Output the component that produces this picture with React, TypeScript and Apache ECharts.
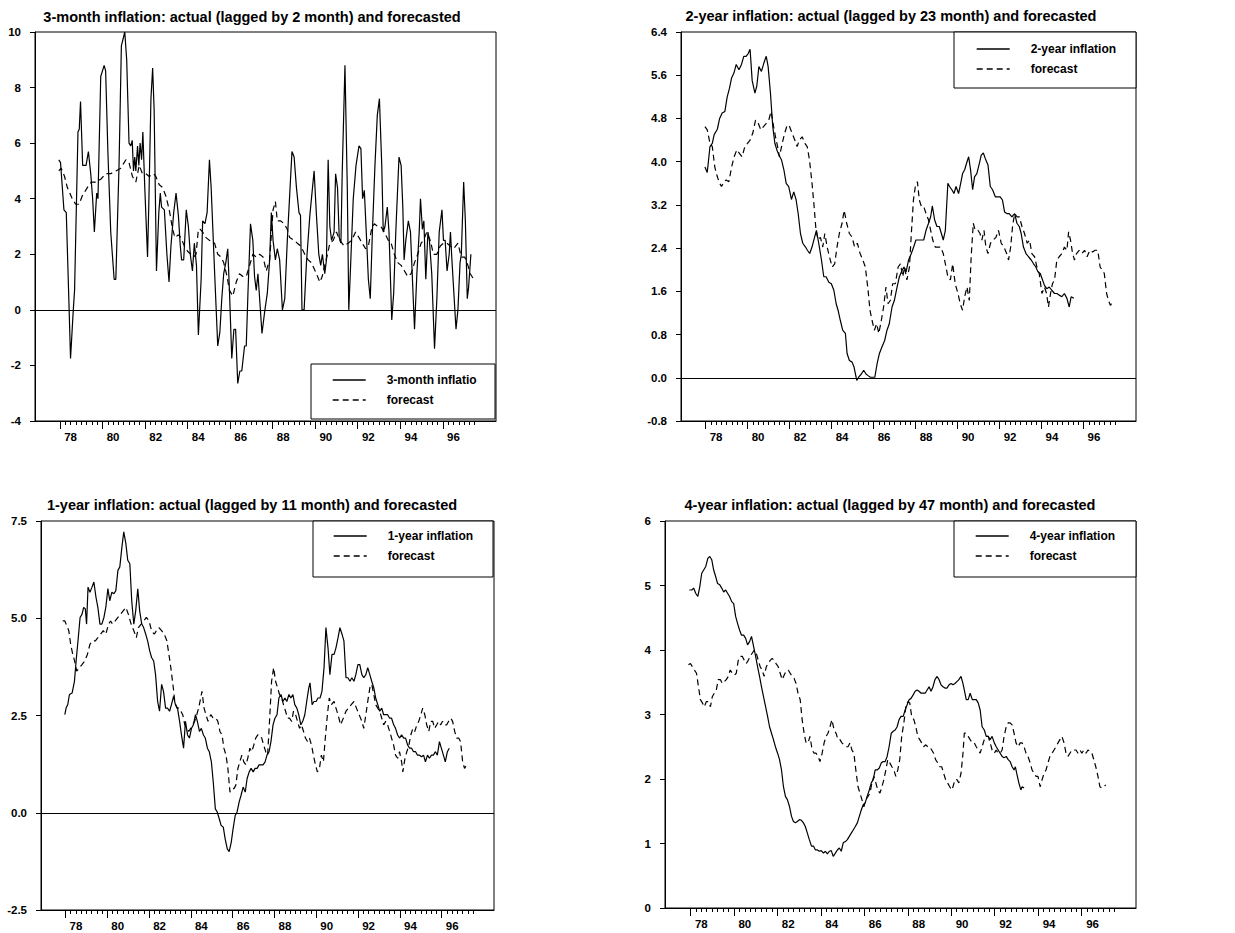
import { useEffect, useRef } from "react";
import * as echarts from "echarts";

// ---------- DATA (decimal year, value) ----------
const m3Actual: [number, number][] = [[1977.95,5.4],[1978.03,5.3],[1978.19,3.6],[1978.30,3.5],[1978.42,0.4],[1978.50,-1.75],[1978.63,0],[1978.69,0.7],[1978.85,6.4],[1978.91,6.5],[1978.97,7.5],[1979.07,5.2],[1979.23,5.2],[1979.34,5.7],[1979.45,4.9],[1979.54,4.0],[1979.62,2.8],[1979.73,4.2],[1979.79,4.0],[1979.92,8.4],[1980.08,8.8],[1980.15,8.6],[1980.26,5.6],[1980.39,2.8],[1980.55,1.1],[1980.63,1.1],[1980.78,5.2],[1980.89,9.5],[1981.05,10.0],[1981.14,9.0],[1981.25,6.0],[1981.33,5.9],[1981.40,6.1],[1981.46,5.0],[1981.52,5.5],[1981.57,5.0],[1981.65,5.9],[1981.71,5.2],[1981.77,6.0],[1981.84,5.4],[1981.90,6.4],[1981.99,4.4],[1982.12,1.9],[1982.18,3.8],[1982.28,7.6],[1982.36,8.7],[1982.43,7.2],[1982.54,1.4],[1982.65,3.5],[1982.72,4.2],[1982.78,3.7],[1982.91,3.6],[1983.03,2.0],[1983.13,1.0],[1983.22,2.3],[1983.35,3.5],[1983.46,4.2],[1983.57,3.4],[1983.66,2.3],[1983.72,1.8],[1983.82,1.8],[1983.94,3.6],[1984.04,3.0],[1984.13,2.0],[1984.23,1.4],[1984.32,2.4],[1984.42,1.6],[1984.51,-0.9],[1984.64,1.1],[1984.71,3.2],[1984.82,3.1],[1984.92,3.5],[1985.03,5.4],[1985.11,4.4],[1985.27,1.4],[1985.42,-1.3],[1985.52,-0.8],[1985.61,0.4],[1985.70,1.3],[1985.80,1.7],[1985.89,2.2],[1985.97,0.7],[1986.08,-1.75],[1986.18,-0.7],[1986.26,-0.7],[1986.36,-2.65],[1986.46,-2.2],[1986.55,-2.2],[1986.68,-1.3],[1986.76,-1.3],[1986.84,0.6],[1986.96,3.1],[1987.07,2.5],[1987.15,1.2],[1987.23,0.7],[1987.31,1.3],[1987.50,-0.85],[1987.62,-0.1],[1987.75,0.6],[1987.86,1.8],[1987.94,3.5],[1988.02,2.5],[1988.13,1.8],[1988.22,2.2],[1988.33,1.8],[1988.46,0],[1988.57,0.4],[1988.69,2.5],[1988.82,4.4],[1988.91,5.7],[1989.01,5.5],[1989.12,4.4],[1989.24,3.5],[1989.31,3.4],[1989.38,0],[1989.48,0],[1989.59,1.7],[1989.75,3.4],[1989.95,5.0],[1990.06,3.4],[1990.17,2.0],[1990.26,1.6],[1990.34,2.0],[1990.45,1.3],[1990.53,1.8],[1990.61,5.4],[1990.69,3.0],[1990.77,2.5],[1990.89,2.8],[1990.96,4.9],[1991.05,4.4],[1991.13,2.6],[1991.21,2.4],[1991.27,4.9],[1991.40,8.8],[1991.51,4.4],[1991.58,0],[1991.65,1.3],[1991.79,4.0],[1991.92,5.2],[1992.06,5.9],[1992.15,5.8],[1992.23,4.0],[1992.31,4.3],[1992.42,2.5],[1992.50,1.1],[1992.59,0.4],[1992.69,2.8],[1992.81,5.2],[1992.92,7.0],[1993.02,7.6],[1993.13,5.2],[1993.20,2.8],[1993.28,3.0],[1993.39,3.7],[1993.47,2.8],[1993.60,-0.36],[1993.69,0.6],[1993.79,2.8],[1993.94,5.5],[1994.04,5.2],[1994.12,3.7],[1994.18,1.8],[1994.26,2.5],[1994.38,3.2],[1994.48,2.8],[1994.67,-0.7],[1994.78,1.3],[1994.89,2.8],[1994.95,4.0],[1995.04,2.9],[1995.11,3.2],[1995.20,1.1],[1995.30,2.8],[1995.37,2.5],[1995.48,1.3],[1995.61,-1.4],[1995.72,0.4],[1995.83,2.8],[1995.96,3.6],[1996.03,2.5],[1996.11,2.5],[1996.20,1.4],[1996.30,2.0],[1996.36,2.8],[1996.42,1.9],[1996.52,0.6],[1996.62,-0.7],[1996.71,0],[1996.81,1.7],[1996.87,2.0],[1996.98,4.6],[1997.06,3.2],[1997.15,0.4],[1997.21,0.8],[1997.32,2.0]];

const m3Forecast: [number, number][] = [[1977.95,5.0],[1978.06,5.1],[1978.22,4.8],[1978.35,4.4],[1978.47,4.2],[1978.58,4.0],[1978.74,3.8],[1978.90,3.8],[1979.05,4.1],[1979.29,4.4],[1979.48,4.6],[1979.68,4.6],[1979.92,4.7],[1980.15,4.9],[1980.39,4.9],[1980.63,5.0],[1980.86,5.1],[1981.10,5.4],[1981.25,5.3],[1981.41,4.8],[1981.57,4.6],[1981.73,5.2],[1981.88,4.9],[1982.04,4.9],[1982.20,4.8],[1982.40,4.9],[1982.51,4.8],[1982.67,4.5],[1982.83,4.4],[1982.98,4.1],[1983.14,3.6],[1983.30,2.9],[1983.41,2.6],[1983.57,2.7],[1983.69,2.6],[1983.85,2.3],[1984.01,2.1],[1984.16,2.0],[1984.29,1.9],[1984.40,2.0],[1984.51,2.9],[1984.60,2.9],[1984.71,2.8],[1984.87,2.6],[1985.03,2.5],[1985.27,2.4],[1985.42,2.0],[1985.58,1.9],[1985.70,1.7],[1985.86,1.2],[1985.97,0.7],[1986.13,0.5],[1986.29,1.0],[1986.44,1.3],[1986.60,1.2],[1986.76,1.2],[1986.92,1.6],[1987.07,2.0],[1987.23,1.9],[1987.39,2.0],[1987.55,1.9],[1987.70,1.4],[1987.86,1.8],[1988.02,3.6],[1988.13,3.9],[1988.22,3.2],[1988.38,3.2],[1988.54,3.1],[1988.69,2.9],[1988.80,2.6],[1989.01,2.5],[1989.16,2.4],[1989.32,2.3],[1989.51,2.0],[1989.67,1.8],[1989.82,1.7],[1990.06,1.3],[1990.22,1.0],[1990.33,1.2],[1990.45,1.6],[1990.58,2.0],[1990.69,2.4],[1990.85,2.5],[1991.00,2.8],[1991.16,2.5],[1991.36,2.3],[1991.55,2.4],[1991.71,2.5],[1991.90,2.8],[1992.06,2.6],[1992.21,2.4],[1992.37,2.2],[1992.50,2.3],[1992.65,2.9],[1992.78,3.1],[1992.94,3.0],[1993.09,3.0],[1993.25,2.8],[1993.44,2.5],[1993.57,2.4],[1993.72,2.0],[1993.88,1.7],[1994.04,1.6],[1994.20,1.4],[1994.35,1.2],[1994.51,1.3],[1994.67,1.7],[1994.82,2.0],[1994.98,2.4],[1995.09,2.5],[1995.25,2.8],[1995.41,2.5],[1995.56,2.0],[1995.72,2.0],[1995.88,2.3],[1996.03,2.4],[1996.19,2.4],[1996.35,2.3],[1996.51,2.2],[1996.71,2.4],[1996.87,1.9],[1997.03,1.9],[1997.18,1.6],[1997.29,1.3],[1997.45,1.1]];

const y2Actual: [number, number][] = [[1977.97,3.9],[1978.08,3.8],[1978.21,4.28],[1978.32,4.34],[1978.41,4.5],[1978.56,4.6],[1978.67,4.8],[1978.79,4.9],[1978.92,4.93],[1979.03,5.2],[1979.14,5.36],[1979.24,5.55],[1979.35,5.64],[1979.46,5.8],[1979.59,5.7],[1979.71,5.8],[1979.82,5.95],[1979.93,5.95],[1980.03,6.0],[1980.12,6.08],[1980.22,5.5],[1980.35,5.27],[1980.44,5.4],[1980.54,5.76],[1980.66,5.67],[1980.78,5.83],[1980.89,5.95],[1980.98,5.76],[1981.09,5.27],[1981.20,4.65],[1981.30,4.34],[1981.41,4.2],[1981.52,4.1],[1981.62,4.03],[1981.73,3.85],[1981.84,3.6],[1981.96,3.54],[1982.09,3.3],[1982.20,3.44],[1982.31,3.3],[1982.41,3.04],[1982.52,2.67],[1982.63,2.49],[1982.76,2.42],[1982.85,2.36],[1982.96,2.3],[1983.07,2.42],[1983.19,2.6],[1983.28,2.73],[1983.39,2.49],[1983.52,2.18],[1983.63,1.87],[1983.74,1.87],[1983.87,1.77],[1983.99,1.74],[1984.11,1.62],[1984.22,1.37],[1984.31,1.25],[1984.42,1.06],[1984.53,0.88],[1984.66,0.82],[1984.74,0.45],[1984.85,0.32],[1984.98,0.29],[1985.07,0.2],[1985.20,-0.05],[1985.29,0.01],[1985.42,0.07],[1985.53,0.14],[1985.64,0.07],[1985.74,0.04],[1985.85,0.01],[1985.96,0.01],[1986.06,0.01],[1986.17,0.26],[1986.28,0.45],[1986.40,0.57],[1986.53,0.69],[1986.64,0.88],[1986.75,1.0],[1986.88,1.31],[1986.99,1.43],[1987.12,1.68],[1987.23,1.87],[1987.36,1.99],[1987.45,2.05],[1987.55,1.96],[1987.67,2.18],[1987.80,2.3],[1987.91,2.42],[1988.02,2.55],[1988.15,2.55],[1988.28,2.55],[1988.39,2.55],[1988.50,2.73],[1988.62,2.86],[1988.72,2.98],[1988.80,3.18],[1988.91,2.92],[1989.02,2.8],[1989.13,2.8],[1989.23,2.67],[1989.32,2.55],[1989.42,2.73],[1989.54,3.6],[1989.62,3.54],[1989.73,3.48],[1989.83,3.41],[1989.93,3.54],[1990.05,3.41],[1990.15,3.6],[1990.24,3.78],[1990.34,3.85],[1990.43,3.97],[1990.53,4.09],[1990.62,3.85],[1990.72,3.48],[1990.81,3.72],[1990.92,3.78],[1991.04,3.97],[1991.13,4.12],[1991.23,4.16],[1991.32,4.06],[1991.45,3.94],[1991.56,3.54],[1991.67,3.48],[1991.80,3.35],[1991.92,3.35],[1992.03,3.35],[1992.14,3.29],[1992.24,3.07],[1992.35,3.04],[1992.46,3.04],[1992.59,2.98],[1992.72,3.04],[1992.83,2.86],[1992.94,2.8],[1993.03,2.67],[1993.14,2.42],[1993.26,2.3],[1993.38,2.24],[1993.51,2.18],[1993.62,2.11],[1993.73,2.05],[1993.83,1.96],[1993.94,1.93],[1994.05,1.81],[1994.14,1.71],[1994.25,1.65],[1994.37,1.68],[1994.49,1.62],[1994.62,1.56],[1994.73,1.56],[1994.84,1.53],[1994.97,1.5],[1995.09,1.56],[1995.21,1.47],[1995.32,1.31],[1995.41,1.5],[1995.54,1.47]];

const y2Forecast: [number, number][] = [[1977.97,4.65],[1978.08,4.59],[1978.21,4.34],[1978.32,4.28],[1978.44,3.9],[1978.56,3.72],[1978.67,3.6],[1978.76,3.54],[1978.87,3.63],[1978.98,3.66],[1979.11,3.63],[1979.24,3.9],[1979.36,4.09],[1979.49,4.22],[1979.62,4.15],[1979.74,4.09],[1979.87,4.28],[1980.00,4.34],[1980.12,4.4],[1980.25,4.53],[1980.38,4.77],[1980.51,4.71],[1980.63,4.59],[1980.76,4.65],[1980.89,4.71],[1981.01,4.77],[1981.12,4.93],[1981.24,4.65],[1981.33,4.46],[1981.43,4.28],[1981.52,4.09],[1981.65,4.34],[1981.77,4.53],[1981.89,4.68],[1982.00,4.65],[1982.12,4.53],[1982.25,4.4],[1982.36,4.28],[1982.47,4.4],[1982.60,4.46],[1982.73,4.34],[1982.84,4.28],[1982.95,4.03],[1983.07,3.6],[1983.17,3.17],[1983.26,2.73],[1983.36,2.55],[1983.47,2.6],[1983.58,2.42],[1983.68,2.67],[1983.79,2.42],[1983.90,2.24],[1984.03,2.05],[1984.15,2.11],[1984.26,2.42],[1984.37,2.67],[1984.50,2.86],[1984.60,3.1],[1984.72,2.86],[1984.85,2.67],[1984.98,2.6],[1985.10,2.42],[1985.23,2.49],[1985.36,2.3],[1985.49,2.18],[1985.61,2.05],[1985.74,1.62],[1985.83,1.25],[1985.93,1.06],[1986.04,0.88],[1986.15,1.0],[1986.25,0.82],[1986.37,1.06],[1986.48,1.31],[1986.59,1.68],[1986.69,1.37],[1986.80,1.43],[1986.91,1.74],[1987.04,1.74],[1987.17,2.05],[1987.28,2.11],[1987.39,1.87],[1987.48,2.05],[1987.59,1.81],[1987.71,2.05],[1987.80,2.67],[1987.90,3.29],[1987.99,3.54],[1988.09,3.63],[1988.18,3.29],[1988.28,3.17],[1988.39,3.17],[1988.50,3.04],[1988.62,2.92],[1988.72,2.73],[1988.82,2.55],[1988.94,2.42],[1989.07,2.42],[1989.20,2.42],[1989.32,2.3],[1989.42,2.11],[1989.54,1.87],[1989.66,1.81],[1989.77,2.11],[1989.89,1.74],[1990.02,1.56],[1990.13,1.37],[1990.24,1.25],[1990.34,1.5],[1990.45,1.68],[1990.56,1.43],[1990.65,2.24],[1990.75,2.86],[1990.84,2.73],[1990.97,2.73],[1991.07,2.67],[1991.16,2.55],[1991.26,2.73],[1991.35,2.42],[1991.45,2.3],[1991.57,2.49],[1991.70,2.55],[1991.83,2.6],[1991.95,2.73],[1992.08,2.49],[1992.21,2.42],[1992.34,2.3],[1992.43,2.18],[1992.53,2.42],[1992.62,2.8],[1992.72,3.04],[1992.83,2.98],[1992.94,2.98],[1993.07,2.8],[1993.19,2.67],[1993.32,2.49],[1993.43,2.55],[1993.54,2.3],[1993.67,2.24],[1993.78,2.05],[1993.89,1.93],[1994.02,1.56],[1994.14,1.68],[1994.24,1.56],[1994.33,1.31],[1994.43,1.56],[1994.52,1.74],[1994.62,1.81],[1994.73,2.18],[1994.84,2.24],[1994.97,2.3],[1995.09,2.42],[1995.21,2.36],[1995.29,2.7],[1995.38,2.55],[1995.48,2.3],[1995.57,2.18],[1995.67,2.3],[1995.79,2.36],[1995.92,2.3],[1996.05,2.36],[1996.17,2.24],[1996.30,2.36],[1996.43,2.33],[1996.55,2.36],[1996.68,2.36],[1996.79,2.05],[1996.90,1.99],[1996.99,1.93],[1997.10,1.56],[1997.19,1.43],[1997.28,1.34],[1997.38,1.4]];

const y1Actual: [number, number][] = [[1977.97,2.52],[1978.03,2.69],[1978.11,2.78],[1978.19,3.04],[1978.32,3.08],[1978.43,3.38],[1978.51,3.9],[1978.60,4.42],[1978.70,5.02],[1978.79,5.1],[1978.87,5.28],[1978.95,5.24],[1979.01,4.85],[1979.08,5.8],[1979.17,5.67],[1979.27,5.8],[1979.36,5.93],[1979.46,5.54],[1979.55,5.28],[1979.65,4.85],[1979.74,4.85],[1979.84,5.02],[1979.93,5.28],[1980.03,5.76],[1980.12,5.45],[1980.22,5.67],[1980.32,5.63],[1980.41,5.71],[1980.51,6.23],[1980.60,6.32],[1980.70,6.83],[1980.79,7.22],[1980.89,6.92],[1980.98,6.49],[1981.08,6.4],[1981.17,5.45],[1981.27,4.85],[1981.36,5.19],[1981.46,5.76],[1981.55,5.19],[1981.65,4.85],[1981.74,4.76],[1981.84,4.59],[1981.93,4.42],[1982.03,4.16],[1982.12,3.99],[1982.22,3.9],[1982.31,3.55],[1982.41,2.86],[1982.50,2.61],[1982.60,3.3],[1982.69,3.12],[1982.79,2.69],[1982.88,2.69],[1982.98,2.61],[1983.07,2.78],[1983.17,2.99],[1983.26,2.78],[1983.36,2.69],[1983.46,2.35],[1983.55,2.0],[1983.65,1.66],[1983.74,2.35],[1983.84,2.0],[1983.93,1.92],[1984.03,2.17],[1984.12,2.26],[1984.22,2.52],[1984.31,2.35],[1984.41,2.09],[1984.50,2.17],[1984.60,2.0],[1984.69,1.92],[1984.79,1.66],[1984.88,1.57],[1984.98,1.31],[1985.07,0.79],[1985.17,0.1],[1985.26,0.02],[1985.36,-0.16],[1985.45,-0.33],[1985.55,-0.37],[1985.64,-0.67],[1985.74,-0.93],[1985.83,-1.0],[1985.93,-0.76],[1986.02,-0.41],[1986.12,-0.07],[1986.21,0.02],[1986.31,0.28],[1986.40,0.45],[1986.50,0.66],[1986.60,0.53],[1986.69,0.88],[1986.79,1.05],[1986.88,1.14],[1986.98,1.05],[1987.07,1.14],[1987.17,1.14],[1987.26,1.23],[1987.36,1.23],[1987.45,1.23],[1987.55,1.31],[1987.64,1.48],[1987.74,1.57],[1987.83,1.83],[1987.93,2.26],[1988.02,2.43],[1988.12,2.52],[1988.21,2.95],[1988.31,3.04],[1988.40,2.86],[1988.50,2.95],[1988.59,2.86],[1988.69,3.04],[1988.78,2.95],[1988.88,3.04],[1988.97,2.78],[1989.07,2.69],[1989.16,2.52],[1989.26,2.26],[1989.35,2.35],[1989.45,2.52],[1989.54,2.86],[1989.64,3.21],[1989.70,3.34],[1989.80,2.78],[1989.89,2.86],[1989.99,2.86],[1990.08,2.95],[1990.18,2.95],[1990.27,3.12],[1990.37,3.73],[1990.46,4.76],[1990.56,4.24],[1990.65,3.55],[1990.75,4.07],[1990.85,4.07],[1990.94,4.24],[1991.04,4.5],[1991.13,4.76],[1991.23,4.59],[1991.32,4.42],[1991.42,3.47],[1991.51,3.47],[1991.61,3.38],[1991.70,3.47],[1991.80,3.38],[1991.89,3.55],[1991.99,3.81],[1992.08,3.81],[1992.18,3.55],[1992.27,3.47],[1992.37,3.55],[1992.46,3.73],[1992.56,3.55],[1992.65,3.38],[1992.75,3.21],[1992.84,2.95],[1992.94,2.78],[1993.03,2.61],[1993.13,2.69],[1993.22,2.52],[1993.32,2.52],[1993.41,2.52],[1993.51,2.43],[1993.60,2.43],[1993.70,2.26],[1993.79,2.17],[1993.89,2.0],[1993.98,1.92],[1994.08,2.0],[1994.18,1.92],[1994.27,1.92],[1994.37,1.74],[1994.46,1.66],[1994.56,1.66],[1994.65,1.57],[1994.75,1.57],[1994.84,1.48],[1994.94,1.48],[1995.03,1.44],[1995.13,1.48],[1995.22,1.31],[1995.32,1.48],[1995.41,1.4],[1995.51,1.48],[1995.60,1.48],[1995.70,1.57],[1995.79,1.48],[1995.89,1.83],[1995.98,1.66],[1996.08,1.48],[1996.17,1.31],[1996.27,1.57],[1996.36,1.66]];

const y1Forecast: [number, number][] = [[1977.87,4.93],[1977.97,4.93],[1978.03,4.85],[1978.16,4.68],[1978.25,4.33],[1978.35,4.07],[1978.44,3.9],[1978.54,3.64],[1978.67,3.73],[1978.79,3.81],[1978.92,3.9],[1979.05,4.07],[1979.17,4.33],[1979.30,4.42],[1979.43,4.42],[1979.55,4.5],[1979.68,4.59],[1979.81,4.68],[1979.93,4.59],[1980.06,4.85],[1980.16,4.93],[1980.25,4.85],[1980.38,4.93],[1980.51,5.02],[1980.63,5.1],[1980.76,5.19],[1980.89,5.28],[1981.01,5.1],[1981.14,4.85],[1981.27,4.68],[1981.39,4.5],[1981.49,4.76],[1981.62,4.85],[1981.74,4.93],[1981.87,5.02],[1982.00,4.93],[1982.12,4.68],[1982.25,4.59],[1982.35,4.68],[1982.47,4.76],[1982.60,4.68],[1982.73,4.59],[1982.85,4.42],[1982.95,4.07],[1983.04,3.73],[1983.14,3.3],[1983.23,2.86],[1983.33,2.69],[1983.42,2.69],[1983.52,2.61],[1983.61,2.52],[1983.71,2.26],[1983.80,2.17],[1983.90,2.09],[1983.99,2.17],[1984.09,2.26],[1984.18,2.35],[1984.28,2.52],[1984.37,2.69],[1984.47,2.95],[1984.53,3.12],[1984.63,2.69],[1984.72,2.52],[1984.82,2.35],[1984.95,2.52],[1985.07,2.43],[1985.20,2.43],[1985.29,2.35],[1985.39,2.09],[1985.49,2.0],[1985.58,1.66],[1985.68,1.48],[1985.77,1.14],[1985.87,0.53],[1985.96,0.62],[1986.06,0.62],[1986.15,0.71],[1986.25,1.14],[1986.34,1.31],[1986.44,1.48],[1986.53,1.31],[1986.63,1.23],[1986.72,1.4],[1986.82,1.66],[1986.91,1.57],[1987.01,1.74],[1987.10,1.92],[1987.20,2.0],[1987.29,2.0],[1987.39,1.92],[1987.48,1.74],[1987.58,1.57],[1987.67,1.48],[1987.77,2.43],[1987.86,3.38],[1987.96,3.73],[1988.05,3.38],[1988.15,3.21],[1988.24,3.04],[1988.34,2.95],[1988.43,2.78],[1988.53,2.61],[1988.62,2.43],[1988.72,2.43],[1988.82,2.35],[1988.91,2.61],[1989.01,2.52],[1989.10,2.35],[1989.20,2.17],[1989.29,2.26],[1989.39,2.09],[1989.48,1.92],[1989.58,1.83],[1989.67,1.92],[1989.77,1.74],[1989.86,1.48],[1989.96,1.23],[1990.05,1.05],[1990.15,1.14],[1990.24,1.48],[1990.34,1.31],[1990.43,1.92],[1990.53,2.52],[1990.62,2.95],[1990.72,2.78],[1990.85,2.86],[1990.94,2.69],[1991.04,2.52],[1991.16,2.26],[1991.29,2.43],[1991.42,2.61],[1991.54,2.69],[1991.67,2.78],[1991.80,2.86],[1991.92,2.69],[1992.05,2.52],[1992.18,2.35],[1992.27,2.17],[1992.37,2.52],[1992.46,2.86],[1992.56,3.21],[1992.65,3.3],[1992.75,3.04],[1992.84,2.78],[1992.94,2.69],[1993.03,2.61],[1993.13,2.43],[1993.22,2.26],[1993.32,2.35],[1993.41,2.26],[1993.51,2.09],[1993.60,1.92],[1993.70,1.74],[1993.79,1.48],[1993.89,1.4],[1993.98,1.57],[1994.08,1.31],[1994.14,1.05],[1994.24,1.4],[1994.33,1.57],[1994.43,1.74],[1994.52,2.0],[1994.62,2.17],[1994.71,2.09],[1994.81,2.26],[1994.90,2.35],[1995.00,2.52],[1995.09,2.69],[1995.19,2.52],[1995.28,2.26],[1995.38,2.09],[1995.47,2.35],[1995.57,2.35],[1995.66,2.17],[1995.76,2.26],[1995.85,2.35],[1995.95,2.26],[1996.04,2.35],[1996.14,2.26],[1996.24,2.26],[1996.33,2.35],[1996.43,2.43],[1996.52,2.35],[1996.62,2.09],[1996.71,1.92],[1996.81,1.92],[1996.90,1.83],[1997.00,1.31],[1997.09,1.14],[1997.19,1.23]];

const y4Actual: [number, number][] = [[1977.95,4.93],[1978.06,4.93],[1978.15,4.96],[1978.24,4.88],[1978.34,4.83],[1978.43,4.98],[1978.52,5.19],[1978.61,5.24],[1978.70,5.29],[1978.80,5.42],[1978.89,5.45],[1978.98,5.4],[1979.07,5.24],[1979.16,5.14],[1979.25,5.03],[1979.35,5.01],[1979.44,4.96],[1979.53,4.9],[1979.62,4.93],[1979.71,4.88],[1979.80,4.83],[1979.90,4.75],[1979.99,4.72],[1980.08,4.52],[1980.17,4.41],[1980.26,4.31],[1980.35,4.23],[1980.45,4.23],[1980.54,4.18],[1980.63,4.08],[1980.72,4.13],[1980.81,4.21],[1980.91,4.05],[1981.00,3.9],[1981.09,3.74],[1981.18,3.59],[1981.27,3.43],[1981.36,3.28],[1981.46,3.12],[1981.55,2.97],[1981.64,2.81],[1981.73,2.71],[1981.82,2.61],[1981.91,2.5],[1982.01,2.4],[1982.10,2.3],[1982.19,2.14],[1982.28,1.88],[1982.37,1.73],[1982.46,1.68],[1982.56,1.57],[1982.65,1.42],[1982.74,1.34],[1982.83,1.32],[1982.92,1.34],[1983.02,1.37],[1983.11,1.36],[1983.20,1.32],[1983.29,1.26],[1983.38,1.16],[1983.47,1.06],[1983.57,0.96],[1983.66,0.96],[1983.75,0.9],[1983.84,0.9],[1983.93,0.88],[1984.02,0.89],[1984.12,0.85],[1984.21,0.88],[1984.30,0.84],[1984.39,0.88],[1984.48,0.89],[1984.57,0.8],[1984.67,0.85],[1984.76,0.9],[1984.85,0.93],[1984.94,0.88],[1985.03,1.01],[1985.13,1.03],[1985.22,1.06],[1985.31,1.11],[1985.40,1.16],[1985.49,1.21],[1985.58,1.26],[1985.68,1.32],[1985.77,1.42],[1985.86,1.52],[1985.95,1.6],[1986.04,1.63],[1986.13,1.73],[1986.23,1.83],[1986.32,1.94],[1986.41,1.99],[1986.50,2.14],[1986.59,2.14],[1986.69,2.17],[1986.78,2.25],[1986.87,2.27],[1986.96,2.27],[1987.05,2.35],[1987.14,2.5],[1987.24,2.71],[1987.33,2.74],[1987.42,2.76],[1987.51,2.81],[1987.60,2.92],[1987.69,2.97],[1987.79,2.97],[1987.88,3.07],[1987.97,3.15],[1988.06,3.23],[1988.15,3.25],[1988.24,3.3],[1988.34,3.36],[1988.43,3.38],[1988.52,3.36],[1988.61,3.33],[1988.70,3.33],[1988.80,3.33],[1988.89,3.38],[1988.98,3.43],[1989.07,3.36],[1989.16,3.43],[1989.25,3.54],[1989.35,3.59],[1989.44,3.54],[1989.53,3.46],[1989.62,3.43],[1989.71,3.41],[1989.80,3.41],[1989.90,3.46],[1989.99,3.48],[1990.08,3.46],[1990.17,3.48],[1990.26,3.51],[1990.35,3.54],[1990.45,3.59],[1990.54,3.48],[1990.63,3.33],[1990.69,3.23],[1990.78,3.23],[1990.87,3.33],[1990.97,3.23],[1991.06,3.23],[1991.15,3.23],[1991.24,3.18],[1991.33,3.07],[1991.42,2.81],[1991.52,2.76],[1991.61,2.66],[1991.70,2.66],[1991.79,2.61],[1991.88,2.66],[1991.98,2.56],[1992.07,2.5],[1992.16,2.45],[1992.25,2.4],[1992.34,2.35],[1992.43,2.33],[1992.53,2.35],[1992.62,2.3],[1992.71,2.27],[1992.80,2.19],[1992.89,2.14],[1992.95,2.19],[1993.01,2.09],[1993.11,1.94],[1993.20,1.83],[1993.26,1.88],[1993.35,1.86]];

const y4Forecast: [number, number][] = [[1977.91,3.77],[1978.00,3.79],[1978.09,3.74],[1978.18,3.69],[1978.28,3.64],[1978.37,3.43],[1978.46,3.23],[1978.55,3.18],[1978.64,3.12],[1978.73,3.2],[1978.83,3.2],[1978.92,3.12],[1979.01,3.28],[1979.10,3.33],[1979.19,3.38],[1979.28,3.54],[1979.38,3.54],[1979.47,3.48],[1979.56,3.51],[1979.65,3.54],[1979.74,3.59],[1979.83,3.69],[1979.93,3.64],[1980.02,3.61],[1980.11,3.64],[1980.20,3.84],[1980.29,3.9],[1980.39,3.9],[1980.48,3.84],[1980.57,3.79],[1980.66,3.84],[1980.75,3.9],[1980.84,3.95],[1980.94,4.0],[1981.03,3.95],[1981.12,3.84],[1981.21,3.74],[1981.30,3.69],[1981.39,3.59],[1981.49,3.74],[1981.58,3.79],[1981.67,3.84],[1981.76,3.87],[1981.85,3.84],[1981.94,3.79],[1982.04,3.74],[1982.13,3.64],[1982.22,3.54],[1982.31,3.61],[1982.40,3.67],[1982.50,3.69],[1982.59,3.64],[1982.68,3.59],[1982.77,3.56],[1982.86,3.48],[1982.95,3.33],[1983.05,3.23],[1983.14,2.92],[1983.23,2.71],[1983.32,2.56],[1983.41,2.56],[1983.50,2.66],[1983.60,2.45],[1983.69,2.4],[1983.78,2.4],[1983.87,2.35],[1983.96,2.27],[1984.06,2.4],[1984.15,2.56],[1984.24,2.66],[1984.33,2.71],[1984.42,2.81],[1984.51,2.92],[1984.61,2.76],[1984.70,2.71],[1984.79,2.61],[1984.88,2.61],[1984.97,2.56],[1985.06,2.53],[1985.16,2.5],[1985.25,2.5],[1985.34,2.56],[1985.43,2.45],[1985.52,2.4],[1985.61,2.14],[1985.71,1.88],[1985.80,1.78],[1985.89,1.68],[1985.98,1.57],[1986.07,1.68],[1986.17,1.73],[1986.26,1.78],[1986.35,1.94],[1986.44,2.04],[1986.53,1.94],[1986.62,1.83],[1986.72,1.78],[1986.81,1.88],[1986.90,1.99],[1986.99,2.14],[1987.08,2.3],[1987.17,2.25],[1987.27,2.19],[1987.36,2.14],[1987.45,2.04],[1987.54,2.14],[1987.63,2.3],[1987.72,2.66],[1987.82,2.87],[1987.91,3.12],[1988.00,3.2],[1988.09,3.18],[1988.18,2.97],[1988.28,2.92],[1988.37,2.81],[1988.46,2.66],[1988.55,2.61],[1988.64,2.56],[1988.73,2.5],[1988.83,2.53],[1988.92,2.5],[1989.01,2.5],[1989.10,2.45],[1989.19,2.4],[1989.28,2.3],[1989.38,2.25],[1989.47,2.19],[1989.56,2.19],[1989.65,2.09],[1989.74,1.99],[1989.83,1.94],[1989.93,1.88],[1990.02,1.83],[1990.08,1.88],[1990.17,1.99],[1990.26,1.99],[1990.35,1.94],[1990.45,2.09],[1990.54,2.4],[1990.60,2.71],[1990.69,2.71],[1990.78,2.66],[1990.87,2.61],[1990.97,2.56],[1991.06,2.56],[1991.15,2.5],[1991.24,2.45],[1991.33,2.4],[1991.42,2.5],[1991.52,2.61],[1991.61,2.66],[1991.70,2.66],[1991.79,2.56],[1991.88,2.45],[1991.98,2.4],[1992.07,2.45],[1992.16,2.4],[1992.25,2.4],[1992.34,2.45],[1992.43,2.66],[1992.53,2.81],[1992.62,2.87],[1992.71,2.87],[1992.80,2.84],[1992.89,2.71],[1992.98,2.56],[1993.08,2.5],[1993.17,2.56],[1993.26,2.56],[1993.35,2.5],[1993.44,2.4],[1993.53,2.35],[1993.63,2.25],[1993.72,2.14],[1993.81,2.09],[1993.90,2.04],[1993.99,2.04],[1994.09,1.88],[1994.18,1.99],[1994.27,2.09],[1994.36,2.14],[1994.45,2.25],[1994.54,2.35],[1994.64,2.4],[1994.73,2.45],[1994.82,2.5],[1994.91,2.56],[1995.00,2.61],[1995.09,2.66],[1995.19,2.56],[1995.28,2.4],[1995.37,2.35],[1995.46,2.4],[1995.55,2.45],[1995.64,2.45],[1995.74,2.45],[1995.83,2.4],[1995.92,2.45],[1996.01,2.4],[1996.10,2.45],[1996.20,2.4],[1996.29,2.45],[1996.38,2.43],[1996.47,2.4],[1996.56,2.3],[1996.65,2.19],[1996.75,2.04],[1996.84,1.88],[1996.93,1.86],[1997.02,1.88],[1997.11,1.91]];

// Axis labels / ticks
const yearLabels = ["78", "80", "82", "84", "86", "88", "90", "92", "94", "96"];
const panelTitles = [
  "3-month inflation: actual (lagged by 2 month) and forecasted",
  "2-year inflation: actual (lagged by 23 month) and forecasted",
  "1-year inflation: actual (lagged by 11 month) and forecasted",
  "4-year inflation: actual (lagged by 47 month) and forecasted",
];
const actualNames = ["3-month inflatio", "2-year inflation", "1-year inflation", "4-year inflation"];
const forecastName = "forecast";
const yRanges = [
  { min: -4, max: 10, step: 2, dec: 0 },
  { min: -0.8, max: 6.4, step: 0.8, dec: 1 },
  { min: -2.5, max: 7.5, step: 2.5, dec: 1 },
  { min: 0, max: 6, step: 1, dec: 0 },
];
const actualSeries = [m3Actual, y2Actual, y1Actual, y4Actual];
const forecastSeries = [m3Forecast, y2Forecast, y1Forecast, y4Forecast];

// ---------- LAYOUT ----------
const FONT = '"Liberation Sans", Arial, Helvetica, sans-serif';
const X_MIN = 1976.83;
const X_MAX = 1998.5;
const layout = [
  { grid: { left: 35, top: 32, width: 461, height: 389 }, titleX: 252, titleY: 9, box: { x: 311, y: 364, w: 184, h: 55 }, legend: { left: 332, top: 374 } },
  { grid: { left: 681, top: 32, width: 455, height: 389 }, titleX: 891, titleY: 8, box: { x: 954, y: 32, w: 182, h: 56 }, legend: { left: 976, top: 43 } },
  { grid: { left: 41, top: 521, width: 453, height: 389 }, titleX: 252, titleY: 497, box: { x: 313, y: 521, w: 180, h: 56 }, legend: { left: 333, top: 530 } },
  { grid: { left: 665, top: 521, width: 471, height: 387 }, titleX: 890, titleY: 497, box: { x: 954, y: 521, w: 182, h: 56 }, legend: { left: 975, top: 530 } },
];

function buildOption() {
  const quarterTicks: number[] = [];
  for (let q = 0; q <= 78; q++) quarterTicks.push(1978 + q * 0.25);
  const evenYearTicks = yearLabels.map((l) => 1900 + Number(l));
  const labelPositions = yearLabels.map((l) => 1900 + Number(l) + 0.5);

  const grids: any[] = [];
  const xAxes: any[] = [];
  const yAxes: any[] = [];
  const series: any[] = [];
  const titles: any[] = [];
  const legends: any[] = [];
  const graphics: any[] = [];

  const black = "#000";
  const labelStyle = { color: black, fontFamily: FONT, fontWeight: "bold", fontSize: 11.5 };

  layout.forEach((L, i) => {
    grids.push({
      ...L.grid,
      show: true,
      borderColor: black,
      borderWidth: 1,
      backgroundColor: "transparent",
      containLabel: false,
      outerBoundsMode: "none",
    });
    xAxes.push({
      gridIndex: i,
      type: "value",
      min: X_MIN,
      max: X_MAX,
      position: "bottom",
      axisLine: { show: true, onZero: false, lineStyle: { color: black, width: 1 } },
      axisTick: { show: true, customValues: quarterTicks, length: 4, lineStyle: { color: black, width: 1 } },
      axisLabel: { show: false },
      splitLine: { show: false },
    });
    xAxes.push({
      gridIndex: i,
      type: "value",
      min: X_MIN,
      max: X_MAX,
      position: "bottom",
      axisLine: { show: false, onZero: false },
      axisTick: { show: true, customValues: evenYearTicks, length: 8, lineStyle: { color: black, width: 1 } },
      axisLabel: {
        show: true,
        customValues: labelPositions,
        margin: 10,
        formatter: (v: number) => String(Math.round(v - 0.5)).slice(2),
        ...labelStyle,
      },
      splitLine: { show: false },
    });
    const R = yRanges[i];
    yAxes.push({
      gridIndex: i,
      type: "value",
      min: R.min,
      max: R.max,
      interval: R.step,
      axisLine: { show: true, onZero: false, lineStyle: { color: black, width: 1 } },
      axisTick: { show: true, length: 5, lineStyle: { color: black, width: 1 } },
      axisLabel: { margin: 14, formatter: (v: number) => v.toFixed(R.dec), ...labelStyle },
      splitLine: { show: false },
    });
    series.push({
      name: actualNames[i],
      type: "line",
      xAxisIndex: 2 * i,
      yAxisIndex: i,
      data: actualSeries[i],
      symbol: "none",
      showSymbol: false,
      lineStyle: { color: black, width: 1.2, type: "solid" },
      itemStyle: { color: black },
      z: 3,
      markLine: {
        silent: true,
        symbol: "none",
        label: { show: false },
        lineStyle: { color: black, width: 1, type: "solid" },
        data: [{ yAxis: 0 }],
      },
    });
    series.push({
      name: forecastName,
      type: "line",
      xAxisIndex: 2 * i,
      yAxisIndex: i,
      data: forecastSeries[i],
      symbol: "none",
      showSymbol: false,
      lineStyle: { color: black, width: 1.2, type: [6, 4] },
      itemStyle: { color: black },
      z: 3,
    });
    titles.push({
      text: panelTitles[i],
      left: L.titleX,
      top: L.titleY,
      textAlign: "center",
      padding: 0,
      textStyle: { color: black, fontFamily: FONT, fontWeight: "bold", fontSize: 14.5 },
    });
    legends.push({
      show: true,
      orient: "vertical",
      left: L.legend.left,
      top: L.legend.top,
      padding: 0,
      itemWidth: 33,
      itemHeight: 14,
      itemGap: 8,
      selectedMode: false,
      z: 10,
      itemStyle: { opacity: 0 },
      lineStyle: { width: 1.4 },
      data: [actualNames[i], forecastName],
      textStyle: { color: black, fontFamily: FONT, fontWeight: "bold", fontSize: 12, padding: [0, 0, 0, 16] },
    });
    graphics.push({
      type: "rect",
      z: 5,
      silent: true,
      shape: { x: L.box.x, y: L.box.y, width: L.box.w, height: L.box.h },
      style: { fill: "#fff", stroke: black, lineWidth: 1 },
    });
  });

  return {
    animation: false,
    backgroundColor: "#fff",
    title: titles,
    legend: legends,
    grid: grids,
    xAxis: xAxes,
    yAxis: yAxes,
    series,
    graphic: { elements: graphics },
  };
}

export default function App() {
  const ref = useRef<HTMLDivElement>(null);
  useEffect(() => {
    if (!ref.current) return;
    const chart = echarts.init(ref.current, undefined, { renderer: "svg" });
    chart.setOption(buildOption() as any);
    return () => chart.dispose();
  }, []);
  return (
    <div
      ref={ref}
      style={{ position: "absolute", left: 0, top: 0, width: 1235, height: 933, background: "#fff" }}
    />
  );
}
